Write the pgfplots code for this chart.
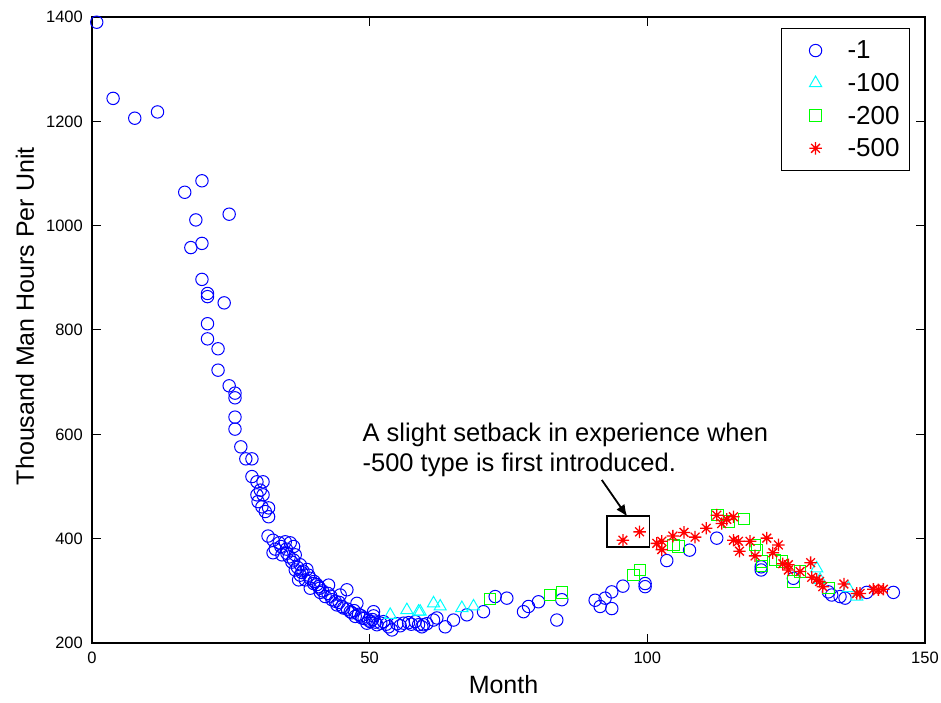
\documentclass[border=0pt]{standalone}
\usepackage{fontspec}
\setmainfont{Liberation Sans}
\usepackage{pgfplots}
\pgfplotsset{compat=1.18}
\usetikzlibrary{arrows.meta}
\definecolor{mblue}{RGB}{0,0,255}
\definecolor{mcyan}{RGB}{0,255,255}
\definecolor{sqgreen}{RGB}{0,255,0}
\definecolor{mred}{RGB}{255,0,0}
\pgfdeclareplotmark{star8}{%
  \pgfpathmoveto{\pgfqpoint{-\pgfplotmarksize}{0pt}}\pgfpathlineto{\pgfqpoint{\pgfplotmarksize}{0pt}}%
  \pgfpathmoveto{\pgfqpoint{0pt}{-\pgfplotmarksize}}\pgfpathlineto{\pgfqpoint{0pt}{\pgfplotmarksize}}%
  \pgfpathmoveto{\pgfqpoint{-0.707\pgfplotmarksize}{-0.707\pgfplotmarksize}}\pgfpathlineto{\pgfqpoint{0.707\pgfplotmarksize}{0.707\pgfplotmarksize}}%
  \pgfpathmoveto{\pgfqpoint{-0.707\pgfplotmarksize}{0.707\pgfplotmarksize}}\pgfpathlineto{\pgfqpoint{0.707\pgfplotmarksize}{-0.707\pgfplotmarksize}}%
  \pgfusepathqstroke}
\pgfplotsset{myleg/.style={legend image code/.code={\path[draw=none,fill=none] (0bp,0bp) -- (56bp,0bp); \draw[only marks] plot coordinates {(28bp,0bp)};}}}
\begin{document}
\begin{tikzpicture}
\path[use as bounding box] (0,0) rectangle (941bp,703bp);
\begin{axis}[
  at={(92bp,60bp)}, anchor=south west,
  width=833bp, height=626bp, scale only axis,
  xmin=0, xmax=150, ymin=200, ymax=1400,
  xtick={0,50,100,150}, ytick={200,400,...,1400},
  tick align=inside, xtick pos=both, ytick pos=both,
  xticklabel pos=bottom, yticklabel pos=left,
  major tick length=9bp,
  axis line style={line width=1.1bp},
  every tick/.style={black, line width=1bp},
  /pgf/number format/assume math mode=true,
  /pgf/number format/1000 sep={},
  tick label style={font=\fontsize{16.5bp}{19bp}\selectfont, inner sep=0pt},
  xticklabel style={yshift=-9bp},
  yticklabel style={xshift=-9bp},
  xlabel={Month}, ylabel={Thousand Man Hours Per Unit},
  every axis x label/.style={at={(axis description cs:0.494,-0.067)}, anchor=center, font=\fontsize{25bp}{29bp}\selectfont},
  every axis y label/.style={at={(axis description cs:-0.0804,0.522)}, rotate=90, anchor=center, font=\fontsize{25bp}{29bp}\selectfont},
  clip=false,
  legend style={at={(axis cs:124.1,1378)}, anchor=north west, draw=black, line width=0.8bp,
    font=\fontsize{26bp}{30bp}\selectfont, inner xsep=6bp, inner ysep=10bp, row sep=9bp,
    nodes={inner xsep=4bp}, legend cell align=left},
]
\addplot[only marks, myleg, mark=o, mark size=6.2bp, draw=mblue, mark options={draw=mblue, fill=none}, line width=1bp] coordinates {
(0.85,1390)(3.8,1244)(7.7,1206)(11.8,1218)(16.7,1064)(17.8,958)(18.7,1011)(19.8,1086)
(19.8,966)(19.8,897)(20.8,870)(20.8,864)(20.8,812)(20.8,783)(22.7,764)(22.7,723)
(23.8,852)(24.7,1022)(24.7,693)(25.75,679)(25.75,670)(25.75,633)(25.75,610)(26.8,576)
(27.7,553)(28.8,553)(28.8,519)(29.7,509)(30.8,509)(30.3,493)(29.7,484)(30.8,484)
(30.6,461)(31.8,459)(31.8,442)(29.9,471)(31.2,452)(31.7,405)(32.6,397)(33.7,392)
(34.8,394)(35.7,392)(36.3,385)(32.6,373)(34.2,369)(35.1,372)(36.6,369)(36.3,359)
(36.6,340)(37.5,330)(38.7,341)(37.2,321)(38.4,321)(39.3,324)(39.9,314)(39.3,305)
(40.8,308)(41.1,297)(42.6,311)(42.0,289)(43.2,283)(44.7,292)(45.9,302)(44.1,273)
(45.3,267)(46.5,260)(47.7,276)(47.4,251)(48.6,248)(49.5,238)(50.7,260)(50.7,252)
(50.1,241)(51.3,235)(52.5,241)(53.4,231)(54.0,225)(54.9,237)(56.1,238)(57.0,239)
(58.2,241)(59.4,231)(60.3,237)(61.5,244)(62.1,248)(63.6,231)(65.1,244)(67.5,254)
(37.5,350)(38.0,338)(39.0,330)(40.0,318)(40.5,312)(41.0,305)(41.5,300)(42.5,295)
(43.0,290)(43.8,280)(44.5,278)(45.0,270)(46.0,265)(46.8,258)(47.2,262)(48.0,255)
(48.5,252)(49.0,247)(49.8,244)(50.5,245)(51.0,240)(52.0,238)(53.0,236)(55.5,233)
(57.5,236)(58.8,235)(33.0,380)(34.0,385)(35.0,380)(35.5,365)(36.0,355)(37.0,345)(37.8,335)
(59.7,235)(70.5,260)(72.6,289)(74.7,286)(77.7,260)(78.6,270)(80.4,279)(83.7,244)(84.6,283)
(90.6,282)(91.5,270)(92.4,286)(93.6,298)(93.6,266)(95.6,309)(99.6,314)(99.6,308)
(103.5,358)(107.6,378)(112.5,401)(120.5,346)(120.5,340)(126.3,324)(132.6,298)(133.2,292)
(134.7,289)(135.6,286)(139.5,297)(144.3,297)
};
\addlegendentry{-1}
\addplot[only marks, myleg, mark=triangle, mark size=7bp, draw=mcyan, mark options={draw=mcyan, fill=none}, line width=1bp] coordinates {
(53.7,254)(56.7,263)(58.8,260)(59.1,260)(61.5,276)(62.7,270)(66.6,267)(68.7,270)
(130.5,343)(131.1,321)(136.2,305)(137.7,289)
};
\addlegendentry{-100}
\addplot[only marks, myleg, mark=square, mark size=5.7bp, draw=sqgreen, mark options={draw=sqgreen, fill=none}, line width=1bp] coordinates {
(71.7,284)(82.5,292)(84.6,297)(97.5,330)(98.7,340)(104.7,388)(105.6,385)(112.6,445)
(114.7,433)(117.4,438)(119.4,388)(119.7,378)(120.6,356)(120.6,348)(123.0,359)(124.2,356)
(126.3,318)(127.5,337)(132.6,305)
};
\addlegendentry{-200}
\addplot[only marks, myleg, mark=star8, mark size=6.2bp, draw=mred, mark options={draw=mred, fill=none}, line width=1.3bp] coordinates {
(95.6,397)(98.6,413)(101.7,391)(102.6,395)(102.6,379)(104.6,405)(106.6,412)(108.6,403)
(110.6,420)(112.5,445)(113.4,429)(114.3,437)(115.5,442)(115.5,397)(116.4,395)(116.6,376)
(118.5,395)(119.4,367)(121.5,401)(122.6,373)(123.6,388)(124.4,352)(125.4,350)(125.4,340)
(127.5,337)(129.4,354)(129.6,326)(130.5,322)(131.0,318)(131.6,308)(135.4,313)(137.7,295)
(138.3,295)(140.7,303)(141.6,302)(142.5,303)
};
\addlegendentry{-500}
\draw[black, line width=1.8bp] (axis cs:92.7,444) rectangle (axis cs:100.4,384.7);
\draw[black, line width=1.8bp, -{Latex[length=12bp,width=10bp]}] (axis cs:91.8,512.5) -- (axis cs:96.4,442);
\node[anchor=base west, inner sep=0pt, font=\fontsize{25.5bp}{30bp}\selectfont] at (axis cs:48.7,586) {A slight setback in experience when};
\node[anchor=base west, inner sep=0pt, font=\fontsize{25.5bp}{30bp}\selectfont] at (axis cs:48.7,528.5) {-500 type is first introduced.};
\end{axis}
\end{tikzpicture}
\end{document}
